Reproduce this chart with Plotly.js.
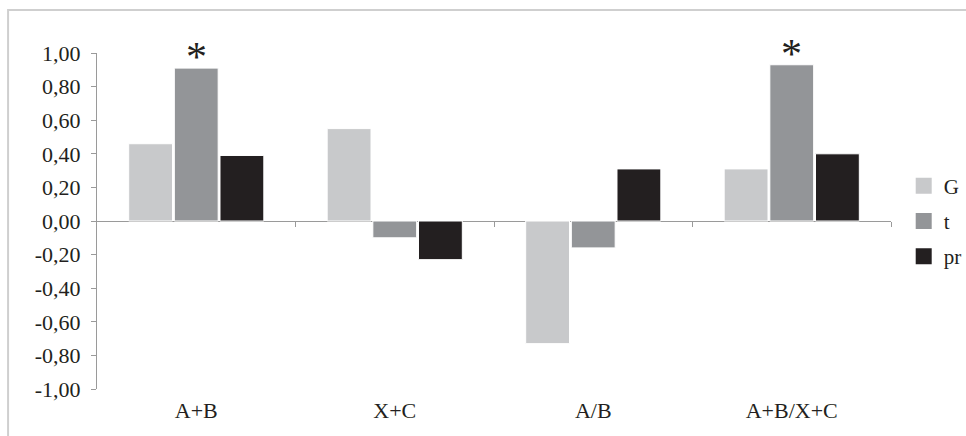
<!DOCTYPE html>
<html>
<head>
<meta charset="utf-8">
<script src="https://cdn.plot.ly/plotly-3.0.1.min.js"></script>
<style>
html,body{margin:0;padding:0;background:#fff;}
#chart{width:966px;height:436px;}
</style>
</head>
<body>
<div id="chart"></div>
<script>
const categories = ["A+B", "X+C", "A/B", "A+B/X+C"];
const seriesNames = ["G", "t", "pr"];
const valuesG = [0.46, 0.55, -0.73, 0.31];
const valuesT = [0.91, -0.10, -0.16, 0.93];
const valuesPr = [0.39, -0.23, 0.31, 0.40];
const starCategories = ["A+B", "A+B/X+C"];
const yTicks = [-1, -0.8, -0.6, -0.4, -0.2, 0, 0.2, 0.4, 0.6, 0.8, 1];
const yTickText = ["-1,00", "-0,80", "-0,60", "-0,40", "-0,20", "0,00", "0,20", "0,40", "0,60", "0,80", "1,00"];

const colors = ["#c8c9cb", "#939598", "#231f20"];
const serif = "Liberation Serif";
const fs = 22;

const allValues = [valuesG, valuesT, valuesPr];
const traces = allValues.map((vals, i) => ({
  type: "bar",
  name: seriesNames[i],
  x: categories,
  y: vals,
  legendgroup: "g" + i,
  showlegend: false,
  marker: {color: colors[i], line: {color: "#ffffff", width: 1}},
  hoverinfo: "x+y+name"
}));
// legend entries (square swatches)
seriesNames.forEach((n, i) => traces.push({
  type: "scatter", mode: "markers", name: n, x: [null], y: [null],
  legendgroup: "g" + i,
  marker: {symbol: "square", size: 20, color: colors[i]},
  hoverinfo: "skip"
}));
// helper trace for boundary ticks on the zero line
traces.push({
  type: "scatter", mode: "markers", x: [0], y: [0], xaxis: "x2", yaxis: "y",
  marker: {opacity: 0}, showlegend: false, hoverinfo: "skip"
});

const annotations = starCategories.map(c => ({
  x: c, y: valuesT[categories.indexOf(c)], xref: "x", yref: "y",
  text: "*", showarrow: false, yanchor: "bottom", yshift: -14,
  font: {family: serif, size: 42, color: "#231f20"}
}));

const layout = {
  width: 966, height: 436,
  margin: {l: 97, r: 75, t: 53, b: 47, autoexpand: false},
  paper_bgcolor: "#ffffff", plot_bgcolor: "#ffffff",
  barmode: "group",
  bargap: 0.31,
  bargroupgap: 0.04,
  font: {family: serif, size: fs, color: "#231f20"},
  xaxis: {
    type: "category", showline: false, showgrid: false, ticks: "",
    zeroline: false, tickfont: {family: serif, size: fs, color: "#231f20"},
    fixedrange: true, automargin: false, ticklabelstandoff: 6
  },
  xaxis2: {
    overlaying: "x", anchor: "free", position: 0.5, side: "bottom",
    range: [0, 4], tickvals: [1, 2, 3, 4], ticks: "outside", ticklen: 5,
    tickcolor: "#9a9a9a", tickwidth: 1, showticklabels: false,
    showline: false, showgrid: false, zeroline: false
  },
  yaxis: {
    range: [-1, 1], tickvals: yTicks, ticktext: yTickText,
    showgrid: false, showline: true, linecolor: "#9a9a9a", linewidth: 1,
    ticks: "outside", ticklen: 5, tickcolor: "#9a9a9a",
    zeroline: true, zerolinecolor: "#9a9a9a", zerolinewidth: 1,
    tickfont: {family: serif, size: fs, color: "#231f20"},
    ticklabelstandoff: 6, automargin: false
  },
  legend: {
    x: 1.016, xanchor: "left", y: 0.5, yanchor: "middle",
    traceorder: "grouped", tracegroupgap: 5, itemsizing: "trace",
    itemwidth: 30,
    font: {family: serif, size: 21, color: "#231f20"},
    bgcolor: "rgba(0,0,0,0)"
  },
  annotations: annotations,
  shapes: [{
    type: "path", xref: "paper", yref: "paper",
    path: "M -0.112,-0.2 L -0.112,1.128 L 1.2,1.128",
    line: {color: "#cfcfcf", width: 2}
  }]
};

Plotly.newPlot("chart", traces, layout, {displayModeBar: false, staticPlot: true});
</script>
</body>
</html>
